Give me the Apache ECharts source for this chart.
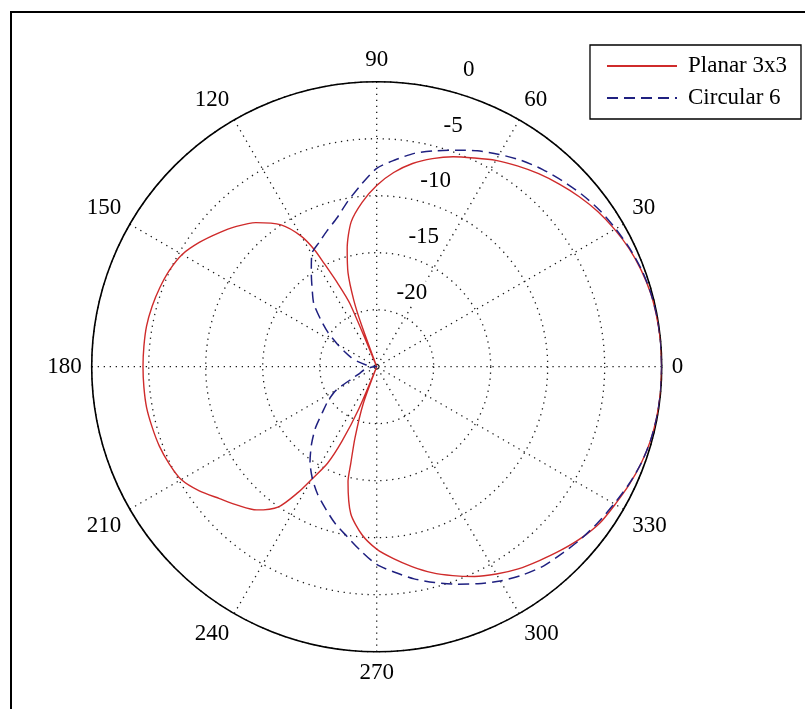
<!DOCTYPE html>
<html><head><meta charset="utf-8">
<script src="https://cdn.jsdelivr.net/npm/echarts@6/dist/echarts.min.js"></script>
<style>html,body{margin:0;padding:0;background:#fff}#c{width:805px;height:709px}</style>
</head><body><div id="c"></div>
<script>
// ---- data (dB vs angle in degrees) ----
const planarAngles = [0,5,10,15,20,25,30,35,40,45,50,55,60,65,70,75,80,85,90,95,100,104,107,109,110,111,
  112,113,115,117,118,120,124,130,135,140,145,150,155,160,165,170,175,180,185,190,195,200,205,210,215,220,225,230,235,238,240,243,245,247,248,
  249,250,253,255,256,260,265,270,275,280,285,290,295,300,305,310,315,320,325,330,335,340,345,350,355,360];
const planarValues = [0,0,-0.05,-0.12,-0.3,-0.55,-0.9,-1.3,-1.8,-2.35,-2.9,-3.5,-4.1,-4.8,-5.4,-6.1,-6.9,-7.9,-9.1,-10.5,-12.1,-14.3,-16.4,-18.8,-21,-25,
  -25,-19,-17,-14.8,-13.4,-11.8,-10.0,-8.5,-7.6,-6.8,-6.0,-5.3,-4.95,-4.75,-4.6,-4.5,-4.5,-4.5,-4.5,-4.5,-4.6,-4.7,-4.9,-5.2,-6.0,-7.0,-7.8,-8.6,-10.0,-12.0,-13.6,-15.5,-17.8,-21,-25,
  -25,-21.5,-18.5,-16.2,-14.6,-11.9,-10.2,-9.0,-8.1,-7.2,-6.3,-5.5,-4.7,-4.0,-3.35,-2.8,-2.2,-1.6,-1.1,-0.85,-0.55,-0.3,-0.12,-0.04,0,0];

const circularAngles = [0,5,10,15,20,25,30,35,40,45,50,55,60,65,70,75,80,85,90,95,100,105,110,115,120,125,130,135,140,145,150,155,160,165,170,175,180,
  185,190,195,200,205,210,215,220,225,230,235,240,245,250,255,260,265,270,275,280,285,290,295,300,305,310,315,320,325,330,335,340,345,350,355,360];
const circularValues = [0,0,-0.02,-0.1,-0.25,-0.5,-0.8,-1.1,-1.5,-1.95,-2.4,-2.9,-3.5,-4.1,-4.8,-5.4,-6.0,-6.8,-7.6,-9.0,-10.3,-11.5,-12.3,-13.0,-13.6,-15.0,-16.2,-17.2,-18.6,-19.8,-21.0,-21.9,-22.6,-23.3,-24.0,-24.6,-25,
  -24.6,-24.2,-23.8,-23.5,-22.8,-20.9,-19.8,-18.8,-17.4,-16.1,-14.8,-13.7,-12.7,-11.8,-10.8,-9.9,-8.8,-7.65,-6.9,-6.1,-5.4,-4.7,-4.0,-3.3,-2.7,-2.2,-1.9,-1.55,-1.25,-0.95,-0.6,-0.3,-0.12,-0.03,0,0];

const angleTickLabels = ['0','30','60','90','120','150','180','210','240','270','300','330'];
const radiusTickLabels = ['-20','-15','-10','-5','0'];
const seriesNames = ['Planar 3x3','Circular 6'];

// ---- chart ----
const FONT = 'Liberation Serif';
const CENTER = [376.7, 366.7];
const R = 285;
const dotted = {color:'#1a1a1a', width:1.3, type:[1.3,4.7]};

const chart = echarts.init(document.getElementById('c'), null, {renderer:'canvas'});
const pair = (angs, vals) => angs.map((a,i)=>[vals[i], a]);

chart.setOption({
  backgroundColor:'#ffffff',
  animation:false,
  polar:[
    {center:CENTER, radius:R},
    {center:CENTER, radius:[26, R+26]}
  ],
  angleAxis:[
    {polarIndex:0, type:'value', min:0, max:360, interval:30, startAngle:0, clockwise:false,
     axisLine:{lineStyle:{color:'#000', width:1.6}},
     axisTick:{show:false},
     axisLabel:{margin:10, color:'#000', fontFamily:FONT, fontSize:23,
       formatter:(v)=> (v>=360 ? '' : angleTickLabels[Math.round(v/30)])},
     splitLine:{show:true, lineStyle:dotted}},
    {polarIndex:1, type:'value', min:0, max:360, startAngle:78, clockwise:false,
     axisLine:{show:false}, axisTick:{show:false}, axisLabel:{show:false}, splitLine:{show:false}}
  ],
  radiusAxis:[
    {polarIndex:0, type:'value', min:-25, max:0, interval:5,
     axisLine:{show:false}, axisTick:{show:false}, axisLabel:{show:false},
     splitLine:{show:true, lineStyle:dotted}},
    {polarIndex:1, type:'value', min:-25, max:0, interval:5, z:5,
     axisLine:{show:false}, axisTick:{show:false}, splitLine:{show:false},
     axisLabel:{show:true, margin:-35, color:'#000', fontFamily:FONT, fontSize:23, backgroundColor:'#fff', padding:[0,1],
       formatter:(v)=> { const i = Math.round((v+20)/5); return (i>=0 && i<radiusTickLabels.length) ? radiusTickLabels[i] : ''; }}}
  ],
  legend:{
    right:4, top:45, orient:'vertical',
    backgroundColor:'#fff', borderColor:'#000', borderWidth:1.3,
    padding:[8,14,8,16], itemGap:6, itemWidth:70, itemHeight:14,
    itemStyle:{opacity:0},
    textStyle:{fontFamily:FONT, fontSize:23, color:'#000', lineHeight:26, padding:[0,0,0,6]},
    data:seriesNames
  },
  series:[
    {name:seriesNames[0], type:'line', coordinateSystem:'polar', polarIndex:0,
     data:pair(planarAngles, planarValues), symbol:'none', smooth:0.25, z:3,
     lineStyle:{color:'#cf2b2b', width:1.4}, itemStyle:{color:'#cf2b2b'}},
    {name:seriesNames[1], type:'line', coordinateSystem:'polar', polarIndex:0,
     data:pair(circularAngles, circularValues), symbol:'none', smooth:0.25, z:3,
     lineStyle:{color:'#1f2080', width:1.5, type:[11,6]}, itemStyle:{color:'#1f2080'}}
  ],
  graphic:[
    {type:'polyline', shape:{points:[[11,709],[11,12],[805,12]]}, style:{stroke:'#000', lineWidth:2, fill:null}, z:10}
  ]
});
</script>
</body></html>
